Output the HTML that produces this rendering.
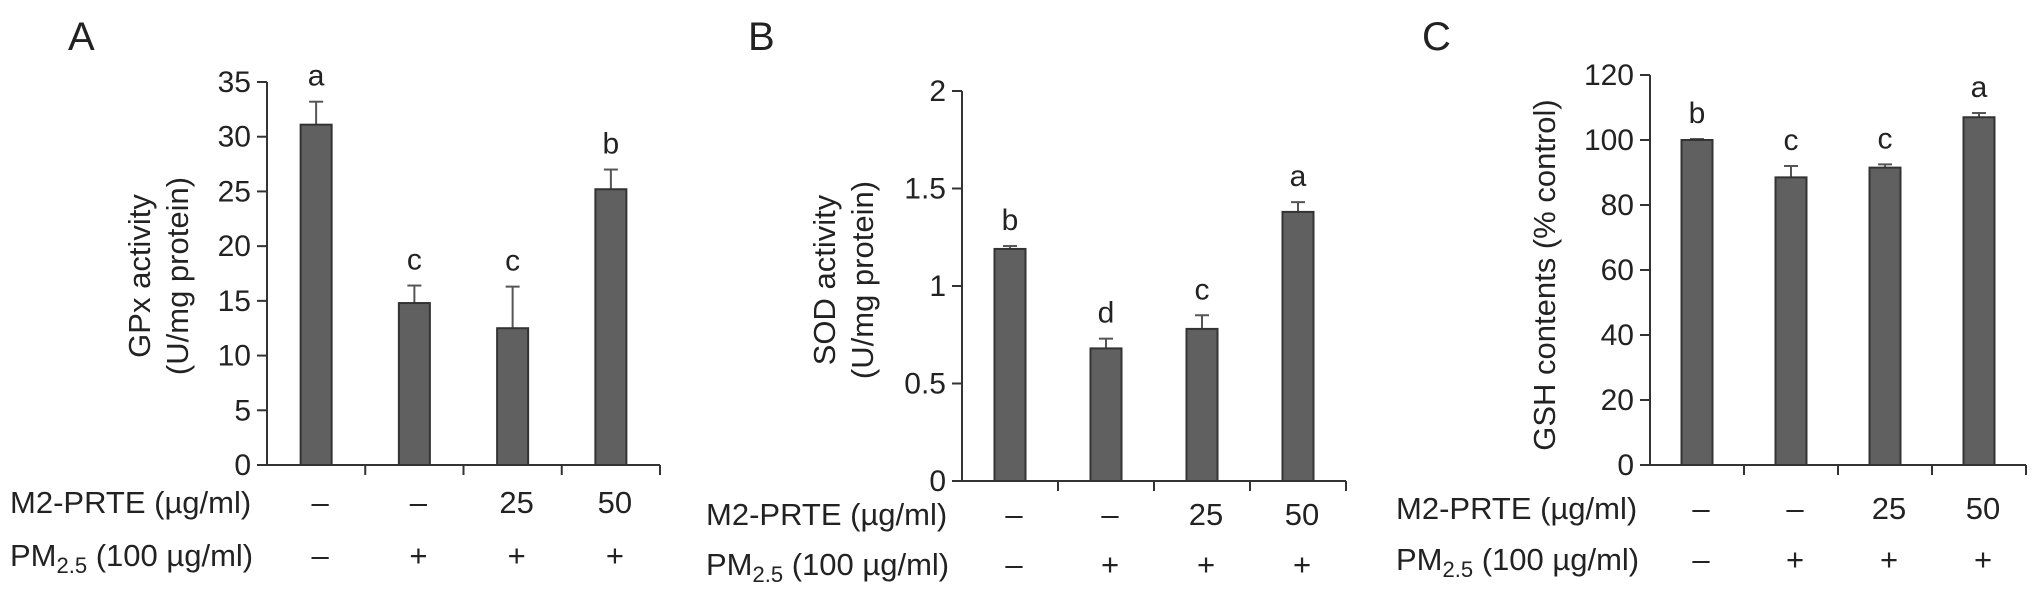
<!DOCTYPE html>
<html><head><meta charset="utf-8"><style>
html,body{margin:0;padding:0;background:#fff;}
svg text{font-family:"Liberation Sans",Arial,sans-serif;fill:#222;}
</style></head><body>
<svg id="chart" width="2032" height="588" viewBox="0 0 2032 588" xmlns="http://www.w3.org/2000/svg"></svg>
<script>
const m2Labels = ["–","–","25","50"];
const pmLabels = ["–","+","+","+"];
const gpxValues = [31.1, 14.8, 12.5, 25.2];
const gpxErrors = [2.1, 1.6, 3.8, 1.8];
const gpxLetters = ["a","c","c","b"];
const gpxTicks = [0,5,10,15,20,25,30,35];
const sodValues = [1.19, 0.68, 0.78, 1.38];
const sodErrors = [0.015, 0.05, 0.07, 0.05];
const sodLetters = ["b","d","c","a"];
const sodTicks = [0,0.5,1,1.5,2];
const sodTickLabels = ["0","0.5","1","1.5","2"];
const gshValues = [100, 88.5, 91.5, 107];
const gshErrors = [0.3, 3.5, 1.0, 1.3];
const gshLetters = ["b","c","c","a"];
const gshTicks = [0,20,40,60,80,100,120];

const NS = "http://www.w3.org/2000/svg";
const svg = document.getElementById('chart');
function mk(tag, attrs, parent, text){
  const e = document.createElementNS(NS, tag);
  for (const k in attrs) e.setAttribute(k, attrs[k]);
  if (text !== undefined) e.textContent = text;
  (parent||svg).appendChild(e);
  return e;
}

function panel(cfg, values, errors, letters, ticks, tickLabels){
  const g = mk('g', {});
  
  
  const yMax = ticks[ticks.length-1];
  const y = v => cfg.y0 - (v / yMax) * (cfg.y0 - cfg.yTop);
  const catW = (cfg.xEnd - cfg.ax) / values.length;
  const cx = i => cfg.ax + catW * (i + 0.5);

  const letter = mk('text', {x: cfg.lx, y: 50, 'font-size': 40}, g, cfg.id.toUpperCase());
  
  

  values.forEach((v, i) => {
    const bw = 31;
    const top = y(v);
    const eb = mk('line', {x1: cx(i), x2: cx(i), y1: top, y2: y(v + errors[i]), stroke: '#555', 'stroke-width': 2}, g);
    
    
    const cap = mk('line', {x1: cx(i) - 7, x2: cx(i) + 7, y1: y(v + errors[i]), y2: y(v + errors[i]), stroke: '#555', 'stroke-width': 2}, g);
    
    
    const r = mk('rect', {x: cx(i) - bw/2, y: top, width: bw, height: cfg.y0 - top, fill: '#606060', stroke: '#333', 'stroke-width': 2}, g);
    
    
    const t = mk('text', {x: cx(i), y: y(v + errors[i]) - 16, 'font-size': 30, 'text-anchor': 'middle'}, g, letters[i]);
    
    
  });

  const ya = mk('line', {x1: cfg.ax, x2: cfg.ax, y1: cfg.yTop, y2: cfg.y0 + 1, stroke: '#333', 'stroke-width': 2}, g);
  
  
  const xa = mk('line', {x1: cfg.ax - 10, x2: cfg.xEnd, y1: cfg.y0, y2: cfg.y0, stroke: '#333', 'stroke-width': 2}, g);
  
  
  ticks.forEach((tv, i) => {
    const tk = mk('line', {x1: cfg.ax - 10, x2: cfg.ax, y1: y(tv), y2: y(tv), stroke: '#333', 'stroke-width': 2}, g);
    
    
    const tl = mk('text', {x: cfg.ax - 16, y: y(tv) + 10, 'font-size': 30, 'text-anchor': 'end'}, g, tickLabels ? tickLabels[i] : String(tv));
    
    
  });
  for (let i = 1; i <= values.length; i++) {
    const xx = cfg.ax + catW * i;
    const tk = mk('line', {x1: xx, x2: xx, y1: cfg.y0, y2: cfg.y0 + 10, stroke: '#333', 'stroke-width': 2}, g);
    
    
  }

  cfg.title.forEach((line, k) => {
    const tx = cfg.titleX[k];
    const t = mk('text', {x: tx, y: cfg.titleY, 'font-size': 31, 'text-anchor': 'middle', transform: `rotate(-90 ${tx} ${cfg.titleY})`}, g, line);
    
    
  });

  const r1 = mk('text', {x: cfg.rowX, y: cfg.row1 + 11, 'font-size': 31}, g, 'M2-PRTE (µg/ml)');
  
  
  const r2 = mk('text', {x: cfg.rowX, y: cfg.row2 + 11, 'font-size': 31}, g);
  
  
  mk('tspan', {}, r2, 'PM');
  mk('tspan', {'font-size': 22, dy: 7}, r2, '2.5');
  mk('tspan', {dy: -7}, r2, ' (100 µg/ml)');
  m2Labels.forEach((s, i) => {
    const t = mk('text', {x: cx(i) + 4, y: cfg.row1 + 11, 'font-size': 31, 'text-anchor': 'middle'}, g, s);
    
    
  });
  pmLabels.forEach((s, i) => {
    const t = mk('text', {x: cx(i) + 4, y: cfg.row2 + 11, 'font-size': 31, 'text-anchor': 'middle'}, g, s);
    
    
  });
}

panel({id:'a', lx:68, ax:267, xEnd:660, y0:465, yTop:82, title:['GPx activity','(U/mg protein)'], titleX:[150,188], titleY:276, rowX:10, row1:502, row2:555},
  gpxValues, gpxErrors, gpxLetters, gpxTicks);
panel({id:'b', lx:748, ax:962, xEnd:1346, y0:481, yTop:91, title:['SOD activity','(U/mg protein)'], titleX:[835,873], titleY:280, rowX:706, row1:514, row2:564},
  sodValues, sodErrors, sodLetters, sodTicks, sodTickLabels);
panel({id:'c', lx:1422, ax:1650, xEnd:2026, y0:465, yTop:75, title:['GSH contents (% control)'], titleX:[1555], titleY:275, rowX:1396, row1:508, row2:559},
  gshValues, gshErrors, gshLetters, gshTicks);
</script>
</body></html>
